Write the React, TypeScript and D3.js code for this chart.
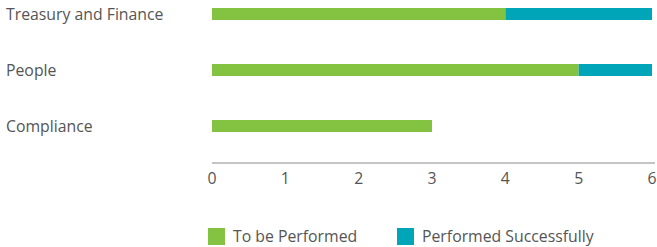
import { useEffect, useRef } from "react";
import * as d3 from "d3";

const categories = ["Treasury and Finance", "People", "Compliance"];
const toBePerformed = [4, 5, 3];
const performedSuccessfully = [2, 1, 0];
const seriesNames = ["To be Performed", "Performed Successfully"];
const xTicks = [0, 1, 2, 3, 4, 5, 6];

const colors = ["#84c341", "#00a5b8"];
const width = 657;
const height = 247;

export default function App() {
  const ref = useRef<SVGSVGElement>(null);

  useEffect(() => {
    const svg = d3.select(ref.current);
    svg.selectAll("*").remove();

    const x = d3.scaleLinear().domain([0, 6]).range([212, 652]);
    const y = d3
      .scaleBand()
      .domain(categories)
      .range([-14.4, 154.4])
      .paddingInner(0.786)
      .paddingOuter(0.4);

    const rows = categories.map((c, i) => ({
      category: c,
      a: toBePerformed[i],
      b: performedSuccessfully[i],
    }));
    const stack = d3.stack<any>().keys(["a", "b"])(rows);

    const font = "'Open Sans', sans-serif";
    const textColor = "#555";
    const fontSize = 15.8;

    // category labels
    svg
      .append("g")
      .selectAll("text")
      .data(categories)
      .join("text")
      .attr("x", 6)
      .attr("y", (d) => y(d)! + y.bandwidth() / 2)
      .attr("dy", "0.35em")
      .attr("font-family", font)
      .attr("font-size", fontSize)
      .attr("fill", textColor)
      .text((d) => d);

    // bars
    svg
      .append("g")
      .selectAll("g")
      .data(stack)
      .join("g")
      .attr("fill", (_, i) => colors[i])
      .selectAll("rect")
      .data((d) => d.filter((p) => p[1] > p[0]))
      .join("rect")
      .attr("x", (d) => x(d[0]))
      .attr("width", (d) => x(d[1]) - x(d[0]))
      .attr("y", (d) => y(d.data.category)!)
      .attr("height", y.bandwidth());

    // axis
    const axisY = 163;
    const axis = svg.append("g").attr("transform", `translate(0,${axisY})`);
    axis
      .append("line")
      .attr("x1", 212)
      .attr("x2", 655)
      .attr("stroke", "#8a8a8a")
      .attr("stroke-width", 1);
    axis
      .selectAll("text")
      .data(xTicks)
      .join("text")
      .attr("x", (d) => x(d))
      .attr("y", 15)
      .attr("dy", "0.35em")
      .attr("text-anchor", "middle")
      .attr("font-family", font)
      .attr("font-size", fontSize)
      .attr("fill", textColor)
      .text((d) => d);

    // legend
    const legendX = [208, 397];
    const legend = svg
      .append("g")
      .selectAll("g")
      .data(seriesNames)
      .join("g")
      .attr("transform", (_, i) => `translate(${legendX[i]},228)`);
    legend
      .append("rect")
      .attr("width", 17)
      .attr("height", 17)
      .attr("fill", (_, i) => colors[i]);
    legend
      .append("text")
      .attr("x", 25)
      .attr("y", 8.5)
      .attr("dy", "0.35em")
      .attr("font-family", font)
      .attr("font-size", fontSize)
      .attr("fill", textColor)
      .text((d) => d);
  }, []);

  return (
    <svg
      ref={ref}
      width={width}
      height={height}
      style={{ position: "absolute", left: 0, top: 0 }}
    ></svg>
  );
}
